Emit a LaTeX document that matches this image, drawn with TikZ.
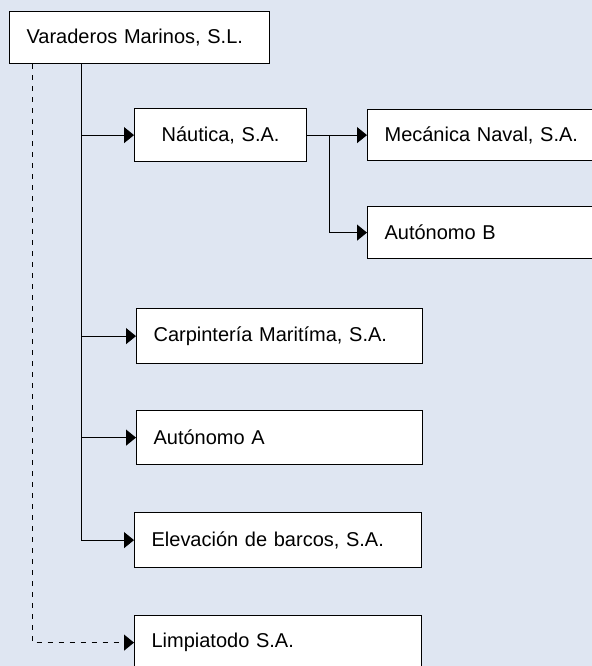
\documentclass[tikz,border=0pt]{standalone}
\usepackage{fontspec}
\setmainfont{Liberation Sans}
\usetikzlibrary{arrows.meta}
\definecolor{fondo}{RGB}{223,230,242}

\begin{document}
\begin{tikzpicture}[x=0.5pt,y=-0.5pt]
\tikzstyle{caja}=[draw,fill=white,line width=0.6pt,anchor=north west,inner xsep=8.5pt,inner ysep=0pt,font=\fontsize{10}{12}\selectfont]
\tikzstyle{flecha}=[line width=0.5pt,-{Triangle[length=5pt,width=8pt]}]
\useasboundingbox[fill=fondo] (0,0) rectangle (592,666);
\foreach \name/\point/\w/\h/\al/\txt in {
	root/{9,11}/260/52/left/{Varaderos Marinos, S.L.},
	naut/{134,108}/172/53/center/{Náutica, S.A.},
	meca/{367,109}/240/51/left/{Mecánica Naval, S.A.},
	autb/{367,206}/240/52/left/{Autónomo B},
	carp/{136,308}/286/55/left/{Carpintería Maritíma, S.A.},
	auta/{136,410}/286/54/left/{Autónomo A},
	elev/{134,512}/287/55/left/{Elevación de barcos, S.A.},
	limp/{134,615}/287/54/left/{Limpiatodo S.A.}}
{
	\pgfmathsetmacro\tw{(\w-34)/2}
	\node[caja,text width=\tw pt,minimum height=\h/2 pt,align=\al] (\name) at (\point) {\txt};
}
\coordinate (tr) at (81,0);
\coordinate (ds) at (32,0);
\coordinate (vz) at (329,0);
\draw[line width=0.5pt] (root.south -| tr) -- (elev.west -| tr);
\foreach \ziel in {naut,carp,auta,elev}
	\draw[flecha] (root.south -| tr) |- (\ziel.west);
\draw[flecha] (naut.east) -- (meca.west);
\draw[flecha] (naut.east -| vz) |- (autb.west);
\draw[flecha,dash pattern=on 2.5pt off 3pt] (root.south -| ds) |- (limp.west);
\end{tikzpicture}
\end{document}
